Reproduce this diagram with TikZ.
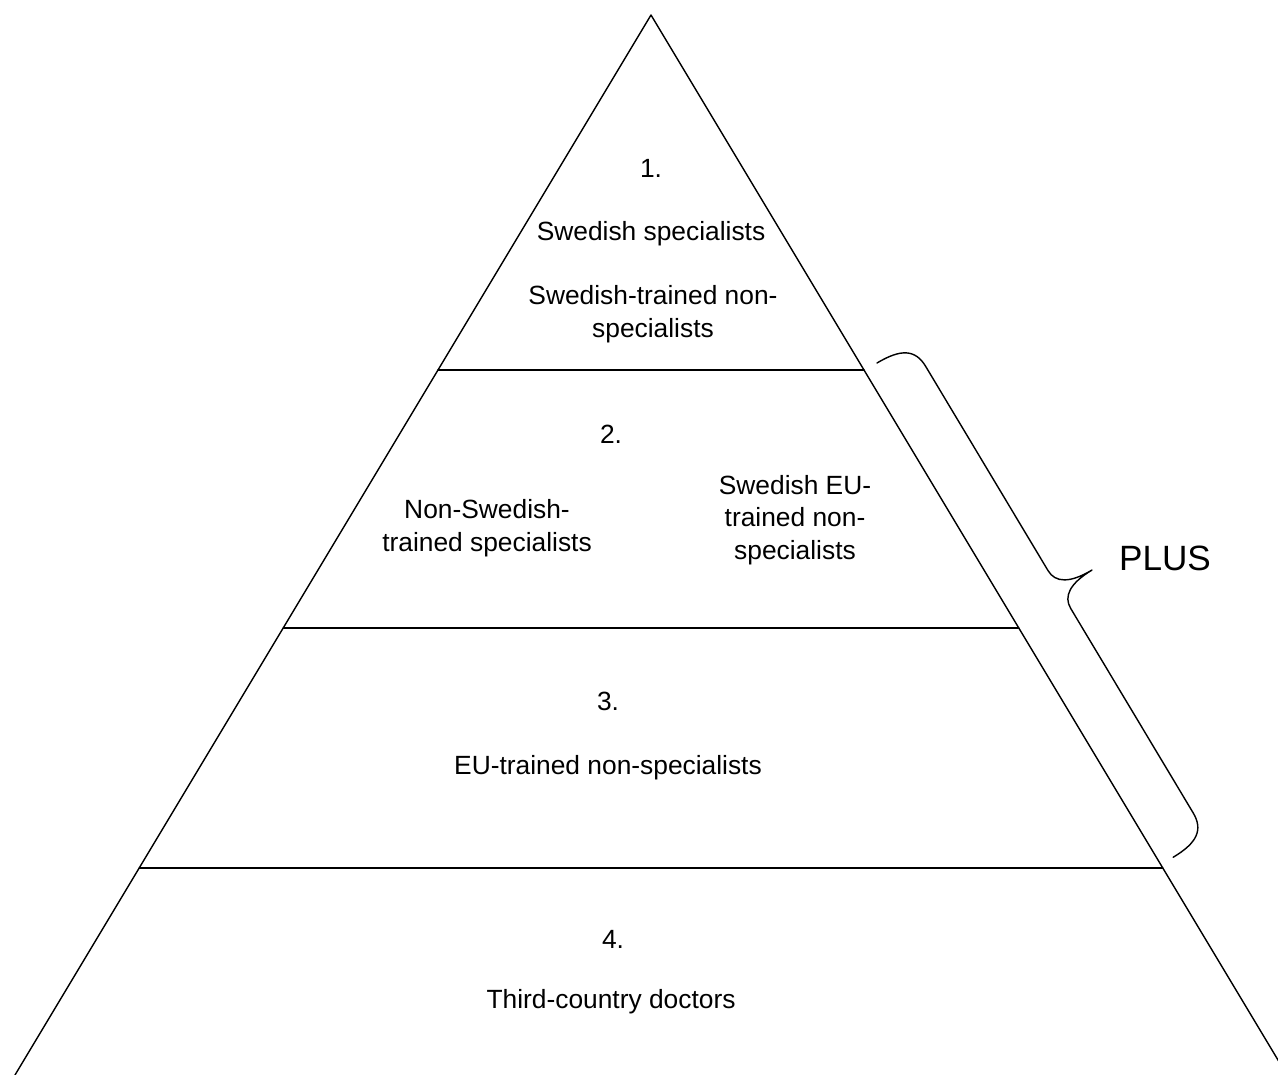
\documentclass[tikz,border=0pt]{standalone}
\usepackage{fontspec}
\setmainfont{Liberation Sans}
\usetikzlibrary{calc}
\begin{document}
\begin{tikzpicture}[x=0.02cm, y=-0.02cm, line join=round, line cap=round,
  every node/.style={font=\fontsize{15}{18.5}\selectfont, align=center, inner sep=0pt},
  level/.style={line width=0.8pt}]
\useasboundingbox (0,0) rectangle (1278,1075);
\clip (0,0) rectangle (1278,1075);
\coordinate (apex) at (651,15);
\coordinate (bl) at (15,1075);
\coordinate (br) at (1287,1075);
\draw[level] (bl)--(apex)--(br);
% horizontal dividers
\foreach \t/\n in {0.3349/a, 0.5783/b, 0.8047/c}
  \draw[level] ($(apex)!\t!(bl)$) coordinate (l\n) -- ($(apex)!\t!(br)$) coordinate (r\n);
% level 1
\node (n1) at (651,168) {1.};
\node (s1) at (651,234) {Swedish specialists};
\node (s2) at (653,314) {Swedish-trained non-\\specialists};
% level 2
\node (n2) at (611,434) {2.};
\node (s3) at (487,528) {Non-Swedish-\\trained specialists};
\node (s4) at (795,520) {Swedish EU-\\trained non-\\specialists};
% level 3
\node (n3) at (608,701) {3.};
\node (s5) at (608,768) {EU-trained non-specialists};
% level 4
\node (n4) at (613,939) {4.};
\node (s6) at (611,1002) {Third-country doctors};
% brace
\begin{scope}[shift={(877,363)}, x={(0.01028cm,-0.01716cm)}, y={(0.01716cm,0.01028cm)}]
\draw[level] (0,0) .. controls (0,28) and (8,40) .. (28,40) -- (266,40)
  .. controls (280,40) and (288,52) .. (288,78)
  .. controls (288,52) and (296,40) .. (310,40) -- (548,40)
  .. controls (568,40) and (576,28) .. (576,0);
\end{scope}
\node[font=\fontsize{20}{24}\selectfont] (plus) at (1165,558) {PLUS};
\end{tikzpicture}
\end{document}
